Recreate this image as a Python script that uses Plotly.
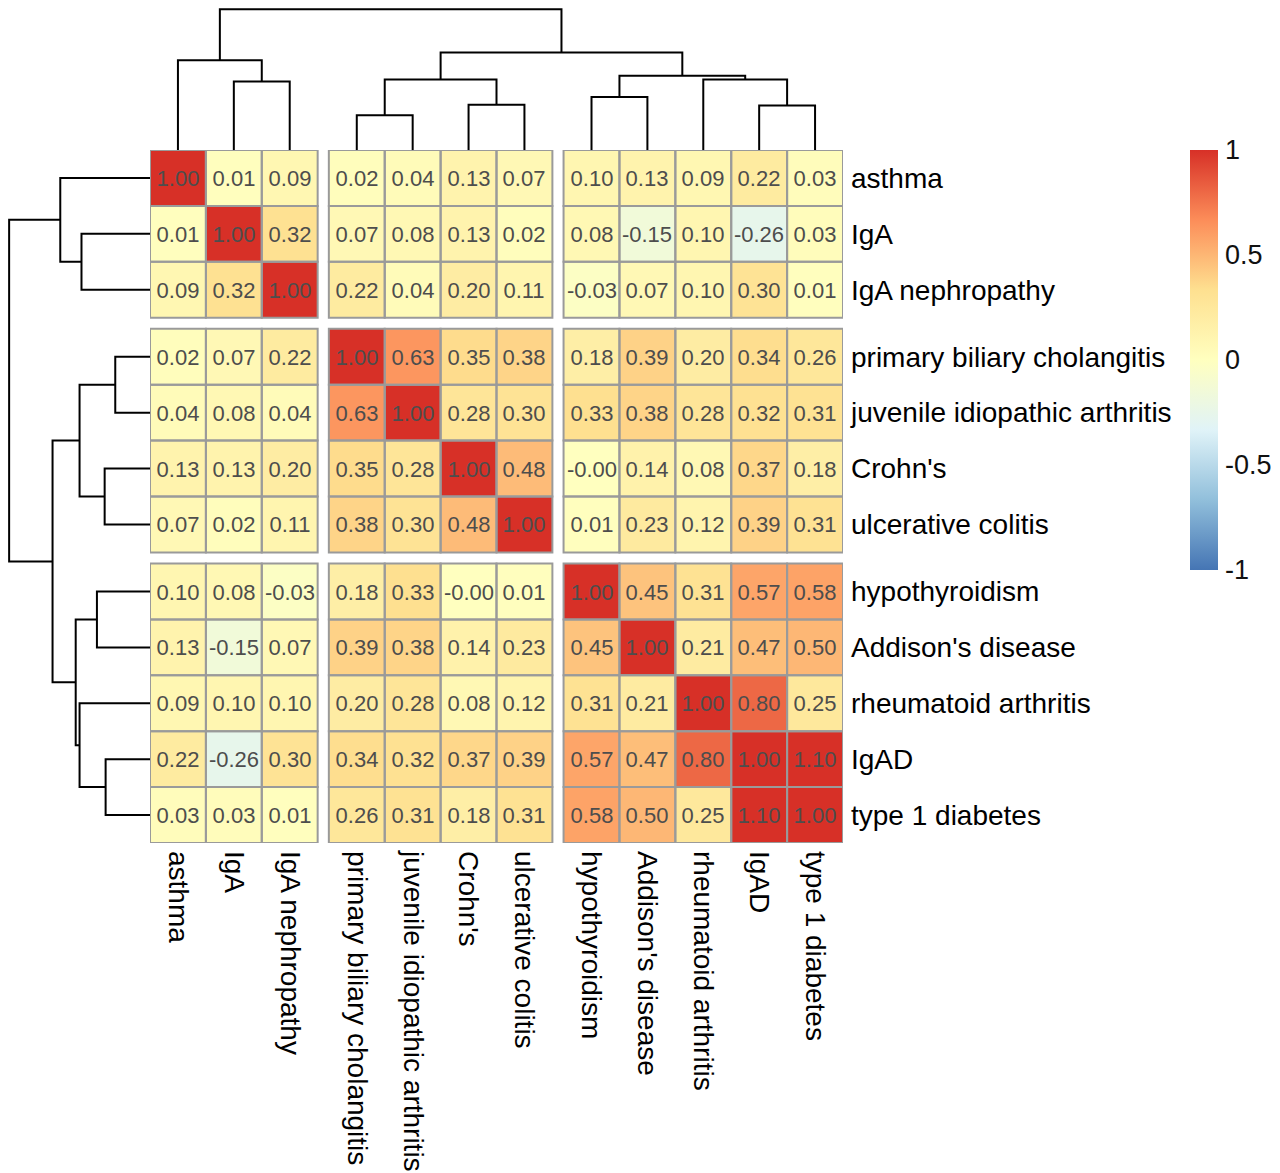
import plotly.graph_objects as go

# ---------------- data ----------------
labels = ["asthma", "IgA", "IgA nephropathy",
          "primary biliary cholangitis", "juvenile idiopathic arthritis", "Crohn's", "ulcerative colitis",
          "hypothyroidism", "Addison's disease", "rheumatoid arthritis", "IgAD", "type 1 diabetes"]
group_sizes = [3, 4, 5]

values = [
    [1.00, 0.01, 0.09, 0.02, 0.04, 0.13, 0.07, 0.10, 0.13, 0.09, 0.22, 0.03],
    [0.01, 1.00, 0.32, 0.07, 0.08, 0.13, 0.02, 0.08, -0.15, 0.10, -0.26, 0.03],
    [0.09, 0.32, 1.00, 0.22, 0.04, 0.20, 0.11, -0.03, 0.07, 0.10, 0.30, 0.01],
    [0.02, 0.07, 0.22, 1.00, 0.63, 0.35, 0.38, 0.18, 0.39, 0.20, 0.34, 0.26],
    [0.04, 0.08, 0.04, 0.63, 1.00, 0.28, 0.30, 0.33, 0.38, 0.28, 0.32, 0.31],
    [0.13, 0.13, 0.20, 0.35, 0.28, 1.00, 0.48, -0.0, 0.14, 0.08, 0.37, 0.18],
    [0.07, 0.02, 0.11, 0.38, 0.30, 0.48, 1.00, 0.01, 0.23, 0.12, 0.39, 0.31],
    [0.10, 0.08, -0.03, 0.18, 0.33, -0.0, 0.01, 1.00, 0.45, 0.31, 0.57, 0.58],
    [0.13, -0.15, 0.07, 0.39, 0.38, 0.14, 0.23, 0.45, 1.00, 0.21, 0.47, 0.50],
    [0.09, 0.10, 0.10, 0.20, 0.28, 0.08, 0.12, 0.31, 0.21, 1.00, 0.80, 0.25],
    [0.22, -0.26, 0.30, 0.34, 0.32, 0.37, 0.39, 0.57, 0.47, 0.80, 1.00, 1.10],
    [0.03, 0.03, 0.01, 0.26, 0.31, 0.18, 0.31, 0.58, 0.50, 0.25, 1.10, 1.00],
]

# dendrogram (same tree for rows and columns); leaves 0..11, merges get ids 12..22
merge_left = [1, 0, 3, 5, 14, 7, 10, 9, 17, 16, 13]
merge_right = [2, 12, 4, 6, 15, 8, 11, 18, 19, 20, 21]
merge_height = [0.71, 0.93, 0.36, 0.47, 0.73, 0.55, 0.46, 0.73, 0.77, 1.01, 1.46]

colorbar_ticks = [-1, -0.5, 0, 0.5, 1]
colorbar_ticktext = ["-1", "-0.5", "0", "0.5", "1"]
palette = ["#4575B4", "#91BFDB", "#E0F3F8", "#FFFFBF", "#FEE090", "#FC8D59", "#D73027"]

# ---------------- layout geometry ----------------
PAGE_W, PAGE_H = 1280, 1173
OFF = 8  # default page body margin
W, H = PAGE_W - OFF, PAGE_H - OFF
FONT = "Liberation Sans, Arial, sans-serif"
gap = 0.2


def px(x):
    return min(max((x - OFF) / W, 0), 1)


def py(y):
    return min(max(1 - (y - OFF) / H, 0), 1)


# bin edges with thin empty gap cells between groups
edges = [0.0]
data_lo = []
is_data = []
for g, size in enumerate(group_sizes):
    for k in range(size):
        data_lo.append(edges[-1])
        edges.append(edges[-1] + 1)
        is_data.append(True)
    if g < len(group_sizes) - 1:
        edges.append(edges[-1] + gap)
        is_data.append(False)
total = edges[-1]
centers = [lo + 0.5 for lo in data_lo]

n = len(labels)
Z, T = [], []
ri = 0
for rflag in is_data:
    zr, tr = [], []
    if rflag:
        ci = 0
        for cflag in is_data:
            if cflag:
                v = values[ri][ci]
                zr.append(v)
                tr.append(f"{v:.2f}")
                ci += 1
            else:
                zr.append(None)
                tr.append("")
        ri += 1
    else:
        zr = [None] * len(is_data)
        tr = [""] * len(is_data)
    Z.append(zr)
    T.append(tr)

colorscale = [[i / (len(palette) - 1), c] for i, c in enumerate(palette)]

fig = go.Figure()
fig.add_trace(go.Heatmap(
    x=edges, y=edges, z=Z, text=T, texttemplate="%{text}",
    textfont=dict(family=FONT, size=22, color="#4D4D4D"),
    zmin=-1, zmax=1, colorscale=colorscale, hoverongaps=False,
    xaxis="x", yaxis="y",
    colorbar=dict(
        x=px(1190), xanchor="left", xpad=0,
        y=py(150), yanchor="top", ypad=0,
        len=420, lenmode="pixels", thickness=28, outlinewidth=0,
        tickvals=colorbar_ticks, ticktext=colorbar_ticktext,
        ticks="outside", ticklen=2, tickcolor="rgba(0,0,0,0)",
        tickfont=dict(family=FONT, size=27, color="#111111"),
    ),
))

# cell borders
shapes = []
for i in range(n):
    for j in range(n):
        shapes.append(dict(type="rect", xref="x", yref="y",
                           x0=data_lo[j], x1=data_lo[j] + 1,
                           y0=data_lo[i], y1=data_lo[i] + 1,
                           line=dict(color="#9A9A9A", width=2), layer="above"))

# dendrogram segments
pos = {i: centers[i] for i in range(n)}
hgt = {i: 0.0 for i in range(n)}
seg_a, seg_h = [], []
for k, (a, b, h) in enumerate(zip(merge_left, merge_right, merge_height)):
    node = n + k
    seg_a += [pos[a], pos[a], pos[b], pos[b], None]
    seg_h += [hgt[a], h, h, hgt[b], None]
    pos[node] = (pos[a] + pos[b]) / 2
    hgt[node] = h

line_style = dict(color="black", width=2)
fig.add_trace(go.Scatter(x=seg_a, y=seg_h, mode="lines", line=line_style,
                         xaxis="x", yaxis="y2", hoverinfo="skip", showlegend=False))
fig.add_trace(go.Scatter(x=seg_h, y=seg_a, mode="lines", line=line_style,
                         xaxis="x2", yaxis="y", hoverinfo="skip", showlegend=False))

hmax = max(merge_height) * 1.008

fig.update_layout(
    width=W, height=H,
    margin=dict(l=0, r=0, t=0, b=0),
    paper_bgcolor="white", plot_bgcolor="rgba(0,0,0,0)",
    showlegend=False,
    font=dict(family=FONT, color="black"),
    shapes=shapes,
    xaxis=dict(domain=[px(150), px(843)], range=[0, total], anchor="y",
               showgrid=False, zeroline=False, showline=False,
               tickmode="array", tickvals=centers, ticktext=labels,
               tickangle=90, ticks="", ticklabelstandoff=7,
               tickfont=dict(family=FONT, size=28, color="black"), automargin=False),
    yaxis=dict(domain=[py(843), py(150)], range=[total, 0], anchor="x",
               side="right", showgrid=False, zeroline=False, showline=False,
               tickmode="array", tickvals=centers, ticktext=labels,
               ticks="", ticklabelstandoff=7,
               tickfont=dict(family=FONT, size=28, color="black"), automargin=False),
    yaxis2=dict(domain=[py(150), py(3)], range=[0, hmax], anchor="x",
                visible=False),
    xaxis2=dict(domain=[px(3), px(150)], range=[hmax, 0], anchor="y",
                visible=False),
)

fig.write_html("out.html")
